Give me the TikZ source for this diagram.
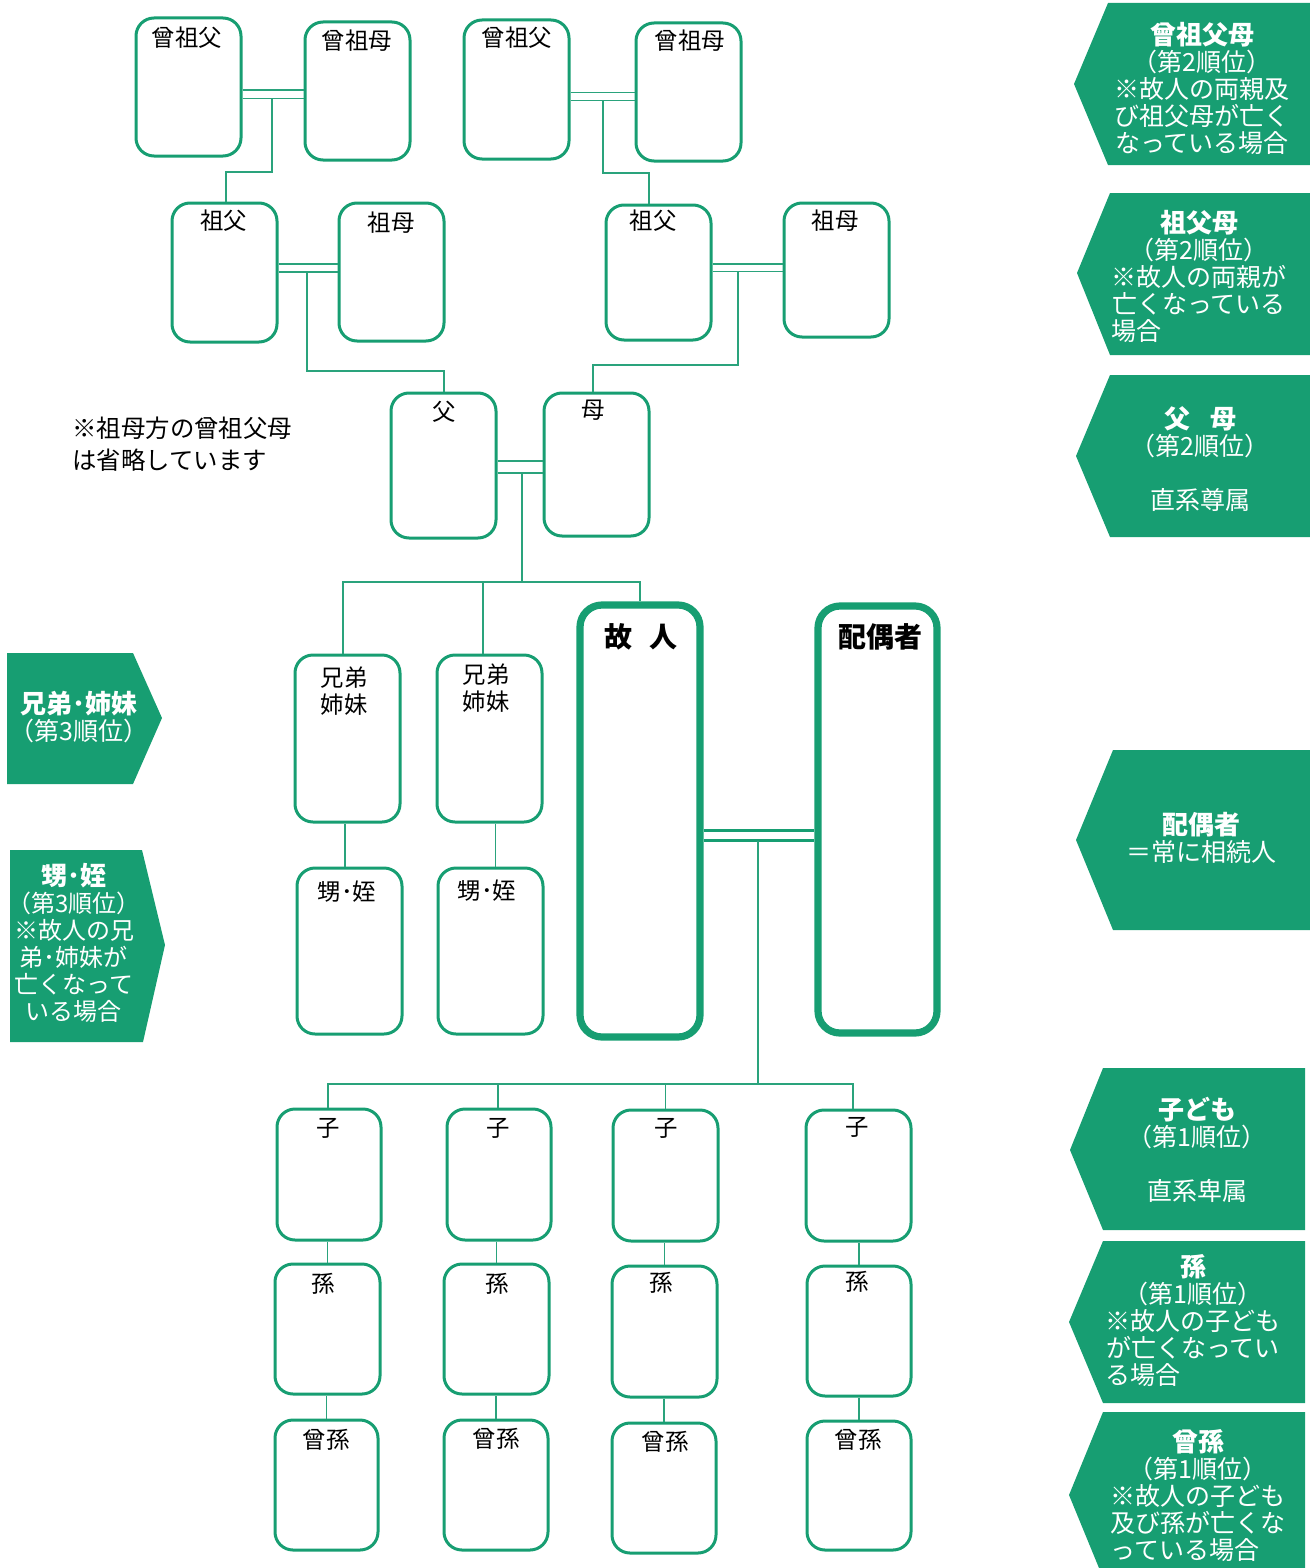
\documentclass[tikz,border=0pt]{standalone}
\usepackage{fontspec}
\setmainfont{Noto Sans CJK JP}
\definecolor{grn}{HTML}{179E72}
\definecolor{lgrn}{HTML}{2AA37C}
\tikzset{
  fbox/.style={draw=grn, line width=1.5pt, rounded corners=9pt, inner sep=0pt, fill=white},
  thickbox/.style={draw=grn, line width=3.6pt, rounded corners=11pt, inner sep=0pt, fill=white},
  ftext/.style={font=\fontsize{11.7}{13.5}\selectfont, inner sep=0pt, align=center},
  conn/.style={draw=lgrn, line width=0.75pt},
  dblconn/.style={draw=grn, line width=1.5pt},
  tag/.style={fill=grn},
  tagtext/.style={text=white, font=\fontsize{12.5}{13.5}\selectfont, inner sep=0pt, align=center},
}
\newcommand\famnode[9]{%
  \node[#1, minimum width={(#5-#3)*0.5pt}, minimum height={(#6-#4)*0.5pt}] (#2) at ({(#3+#5)/2},{(#4+#6)/2}) {};
  \node[ftext] (#2-t) at (#8,#9) {#7};}
\newcommand\ttl[1]{{\bfseries\fontsize{13}{13.5}\selectfont #1}}
\begin{document}
\begin{tikzpicture}[x=0.5pt,y=-0.5pt]
\useasboundingbox (0,0) rectangle (1310,1568);

% ---------- side tags ----------
\fill[tag] (1310,3) -- (1108,3) -- (1074,84) -- (1108,165) -- (1310,165) -- cycle;
\fill[tag] (1310,193) -- (1110,193) -- (1077,273) -- (1110,355) -- (1310,355) -- cycle;
\fill[tag] (1310,375) -- (1110,375) -- (1076,456) -- (1110,537) -- (1310,537) -- cycle;
\fill[tag] (1310,750) -- (1113,750) -- (1076,840) -- (1113,930) -- (1310,930) -- cycle;
\fill[tag] (1305,1068) -- (1103,1068) -- (1070,1150) -- (1103,1230) -- (1305,1230) -- cycle;
\fill[tag] (1305,1241) -- (1103,1241) -- (1069,1322) -- (1103,1403) -- (1305,1403) -- cycle;
\fill[tag] (1305,1412) -- (1103,1412) -- (1069,1495) -- (1099,1568) -- (1305,1568) -- cycle;
\fill[tag] (7,653) -- (133,653) -- (162,718) -- (133,784) -- (7,784) -- cycle;
\fill[tag] (10,850) -- (142,850) -- (165,945) -- (143,1042) -- (10,1042) -- cycle;

\node[tagtext] (t1) at (1202,88) {\ttl{曾祖父母}\\（第2順位）\\※故人の両親及\\び祖父母が亡く\\なっている場合};
\node[tagtext] (t2) at (1199,276) {\ttl{祖父母}\\（第2順位）\\※故人の両親が\\亡くなっている\\\makebox[87.5pt][l]{場合}};
\node[tagtext] (t3) at (1200,459.5) {\ttl{父\hspace{10pt}母}\\（第2順位）\\[13.5pt]直系尊属};
\node[tagtext] (t4) at (1201,838) {\ttl{配偶者}\\＝常に相続人};
\node[tagtext] (t5) at (1197,1150) {\ttl{子ども}\\（第1順位）\\[13.5pt]直系卑属};
\node[tagtext] (t6) at (1193,1320.5) {\ttl{孫}\\（第1順位）\\※故人の子ども\\が亡くなってい\\\makebox[87.5pt][l]{る場合}};
\node[tagtext] (t7) at (1198,1495.5) {\ttl{曾孫}\\（第1順位）\\※故人の子ども\\及び孫が亡くな\\\makebox[87.5pt][l]{っている場合}};
\node[tagtext] (t8) at (79,717.5) {\ttl{兄弟･姉妹}\\（第3順位）};
\node[tagtext, font=\fontsize{12}{13.5}\selectfont] (t9) at (74,943) {\ttl{甥･姪}\\（第3順位）\\※故人の兄\\弟･姉妹が\\亡くなって\\いる場合};

% ---------- note ----------
\node[ftext, align=left, anchor=west, font=\fontsize{12.2}{16}\selectfont] (note) at (72,444) {※祖母方の曾祖父母\\は省略しています};

% ---------- family boxes ----------
\famnode{fbox}{A}{136}{18}{241}{156}{曾祖父}{187}{38}
\famnode{fbox}{B}{305}{22}{410}{160}{曾祖母}{357}{41}
\famnode{fbox}{C}{464}{20}{569}{159}{曾祖父}{517}{38}
\famnode{fbox}{D}{636}{23}{741}{161}{曾祖母}{690}{41}
\famnode{fbox}{E}{172}{203}{277}{342}{祖父}{223.5}{221}
\famnode{fbox}{F}{339}{203}{444}{341}{祖母}{391}{223}
\famnode{fbox}{G}{606}{205}{711}{340}{祖父}{653}{221}
\famnode{fbox}{H}{784}{203}{889}{337}{祖母}{835}{221}
\famnode{fbox}{I}{391}{393}{496}{538}{父}{444}{412}
\famnode{fbox}{J}{544}{393}{649}{536}{母}{593}{410}
\famnode{fbox}{K}{295}{655}{400}{822}{兄弟\\姉妹}{344}{691.5}
\famnode{fbox}{L}{437}{655}{542}{822}{兄弟\\姉妹}{486}{688.5}
\famnode{fbox}{M}{297}{868}{402}{1034}{甥･姪}{347}{892}
\famnode{fbox}{N}{438}{868}{543}{1034}{甥･姪}{487}{891}
\famnode{thickbox}{P}{580}{605}{700}{1037}{\bfseries\fontsize{14}{16}\selectfont 故\hspace{9pt}人}{641}{637}
\famnode{thickbox}{Q}{818}{606}{937}{1033}{\bfseries\fontsize{14}{16}\selectfont 配偶者}{880}{637}
\famnode{fbox}{C1}{277}{1109}{381}{1240}{子}{328}{1128}
\famnode{fbox}{C2}{447}{1109}{551}{1240}{子}{498}{1128}
\famnode{fbox}{C3}{613}{1110}{718}{1241}{子}{666}{1128}
\famnode{fbox}{C4}{806}{1110}{911}{1241}{子}{857}{1127}
\famnode{fbox}{G1}{275}{1264}{380}{1394}{孫}{323}{1284}
\famnode{fbox}{G2}{444}{1264}{549}{1394}{孫}{497}{1284}
\famnode{fbox}{G3}{612}{1266}{717}{1397}{孫}{661}{1283}
\famnode{fbox}{G4}{807}{1266}{911}{1396}{孫}{857}{1282}
\famnode{fbox}{H1}{275}{1420}{378}{1550}{曾孫}{326}{1440}
\famnode{fbox}{H2}{444}{1420}{548}{1550}{曾孫}{496}{1439}
\famnode{fbox}{H3}{612}{1423}{716}{1553}{曾孫}{665}{1442}
\famnode{fbox}{H4}{807}{1421}{911}{1550}{曾孫}{858}{1440}

% ---------- connectors ----------
\draw[conn] (A.east |- 0,90) -- (B.west |- 0,90);
\draw[conn] (A.east |- 0,98.5) -- (B.west |- 0,98.5);
\coordinate (ABm) at (272,98.5);
\draw[conn] (ABm) -- (ABm |- 0,172) -| ([xshift=0.75pt]E.north);
\draw[conn] (C.east |- 0,92.5) -- (D.west |- 0,92.5);
\draw[conn] (C.east |- 0,100.5) -- (D.west |- 0,100.5);
\coordinate (CDm) at (603,100.5);
\draw[conn] (CDm) -- (CDm |- 0,173) -| ([xshift=-4.75pt]G.north);
\draw[conn] (E.east |- 0,264) -- (F.west |- 0,264);
\draw[conn] (E.east |- 0,272) -- (F.west |- 0,272);
\coordinate (EFm) at (307,272);
\draw[conn] (EFm) -- (EFm |- 0,371) -| ([xshift=0.25pt]I.north);
\draw[conn] (G.east |- 0,264) -- (H.west |- 0,264);
\draw[conn] (G.east |- 0,271.5) -- (H.west |- 0,271.5);
\coordinate (GHm) at (738,271.5);
\draw[conn] (GHm) -- (GHm |- 0,365) -| ([xshift=-1.75pt]J.north);
\draw[conn] (I.east |- 0,461) -- (J.west |- 0,461);
\draw[conn] (I.east |- 0,473) -- (J.west |- 0,473);
\coordinate (IJm) at (522,473);
\draw[conn] (IJm) -- (IJm |- 0,582);
\draw[conn] ([xshift=-2.25pt]K.north) |- (P.north |- 0,582) -- (P.north);
\draw[conn] ([xshift=-3.25pt]L.north) -- ([xshift=-3.25pt]L.north |- 0,582);
\draw[conn] ([xshift=-1.25pt]K.south) -- ([xshift=-1.25pt]K.south |- M.north);
\draw[conn] ([xshift=3pt]L.south) -- ([xshift=3pt]L.south |- N.north);
\draw[dblconn] (P.east |- 0,830) -- (Q.west |- 0,830);
\draw[dblconn] (P.east |- 0,840) -- (Q.west |- 0,840);
\coordinate (PQm) at (758,841);
\draw[conn] (PQm) -- (PQm |- 0,1084);
\draw[conn] ([xshift=-0.5pt]C1.north) |- ([xshift=-2.75pt]C4.north |- 0,1084) -- ([xshift=-2.75pt]C4.north);
\draw[conn] ([xshift=-0.5pt]C2.north) -- ([xshift=-0.5pt]C2.north |- 0,1084);
\draw[conn] (C3.north) -- (C3.north |- 0,1084);
\foreach \i in {1,2,3,4}{
  \draw[conn] (G\i.north) -- (G\i.north |- C\i.south);
  \draw[conn] (H\i.north) -- (H\i.north |- G\i.south);
}
\end{tikzpicture}
\end{document}
